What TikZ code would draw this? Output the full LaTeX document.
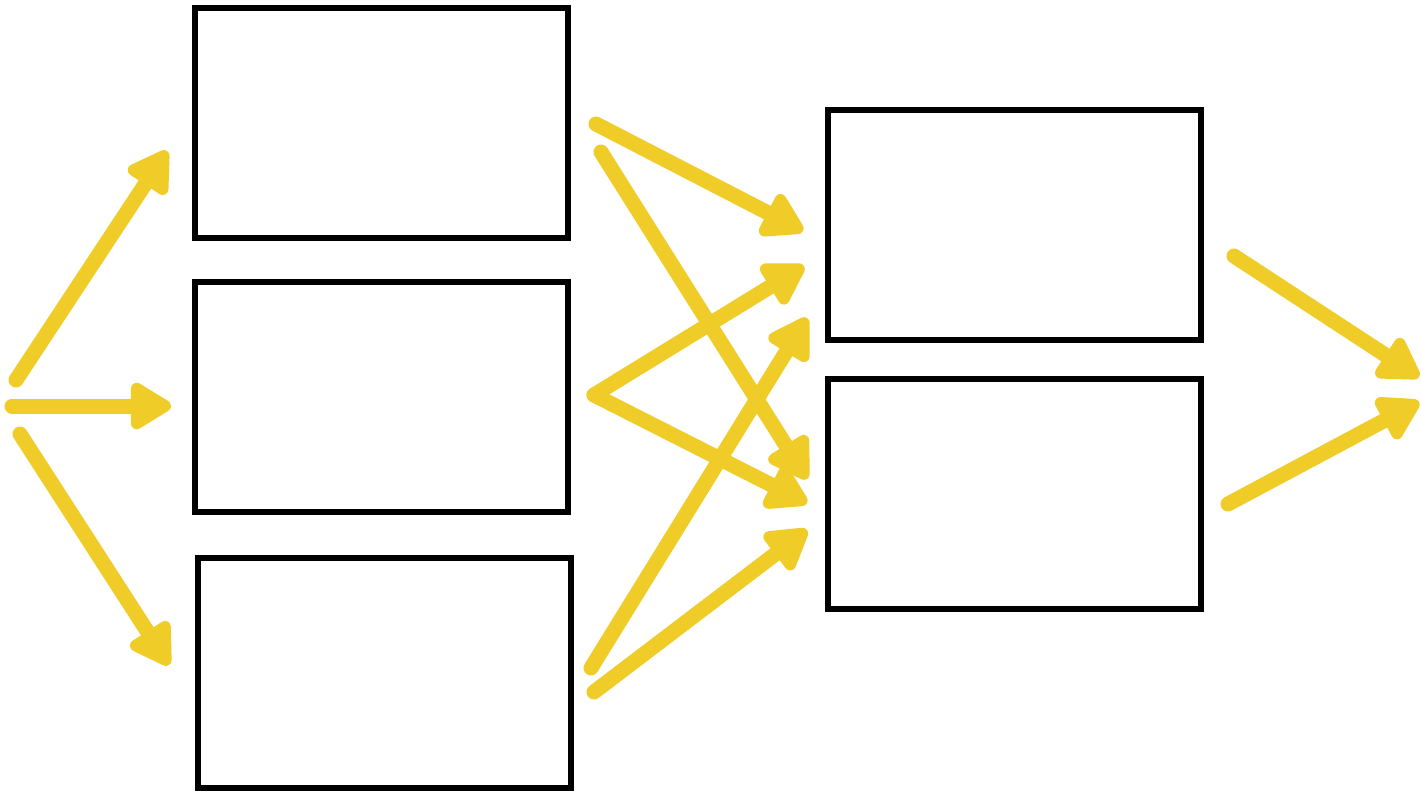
\documentclass[tikz,border=0pt]{standalone}
\usetikzlibrary{arrows.meta}
\definecolor{hl}{HTML}{F0CC28}
\begin{document}
\begin{tikzpicture}[x=0.01cm,y=-0.01cm,
  box/.style={draw=black,line width=0.055cm,minimum width=3.73cm,minimum height=2.3cm,inner sep=0pt,outer sep=0pt,anchor=north west},
  yarrow/.style={draw=hl,line width=0.15cm,line cap=round,-{Triangle[length=0.46cm,width=0.52cm,round]}}]
\useasboundingbox (0,0) rectangle (1421,800);
\fill[white] (0,0) rectangle (1421,800);
\node[box] (b1) at (195,8) {};
\node[box] (b2) at (195,282) {};
\node[box] (b3) at (198,558) {};
\node[box] (b4) at (828,110) {};
\node[box] (b5) at (828,379) {};
% arrow endpoints
\coordinate (s1) at (16,380); \coordinate (e1) at (167,151);
\coordinate (s2) at (12,406); \coordinate (e2) at (171,406);
\coordinate (s3) at (20,434); \coordinate (e3) at (169,665);
\coordinate (s4) at (596,124); \coordinate (e4) at (803,231);
\coordinate (s5) at (601,152); \coordinate (e5) at (807,479);
\coordinate (s6) at (594,395); \coordinate (e6) at (804,266);
\coordinate (e7) at (807,503);
\coordinate (s8) at (591,668); \coordinate (e8) at (807,318);
\coordinate (s9) at (594,692); \coordinate (e9) at (807,530);
\coordinate (s10) at (1234,256); \coordinate (e10) at (1419,377);
\coordinate (s11) at (1228,504); \coordinate (e11) at (1419,402);
\draw[yarrow] (s1) -- (e1);
\draw[yarrow] (s2) -- (e2);
\draw[yarrow] (s3) -- (e3);
\draw[yarrow] (s4) -- (e4);
\draw[yarrow] (s5) -- (e5);
\draw[yarrow] (s6) -- (e6);
\draw[yarrow] (s6) -- (e7);
\draw[yarrow] (s8) -- (e8);
\draw[yarrow] (s9) -- (e9);
\draw[yarrow] (s10) -- (e10);
\draw[yarrow] (s11) -- (e11);
\end{tikzpicture}
\end{document}
